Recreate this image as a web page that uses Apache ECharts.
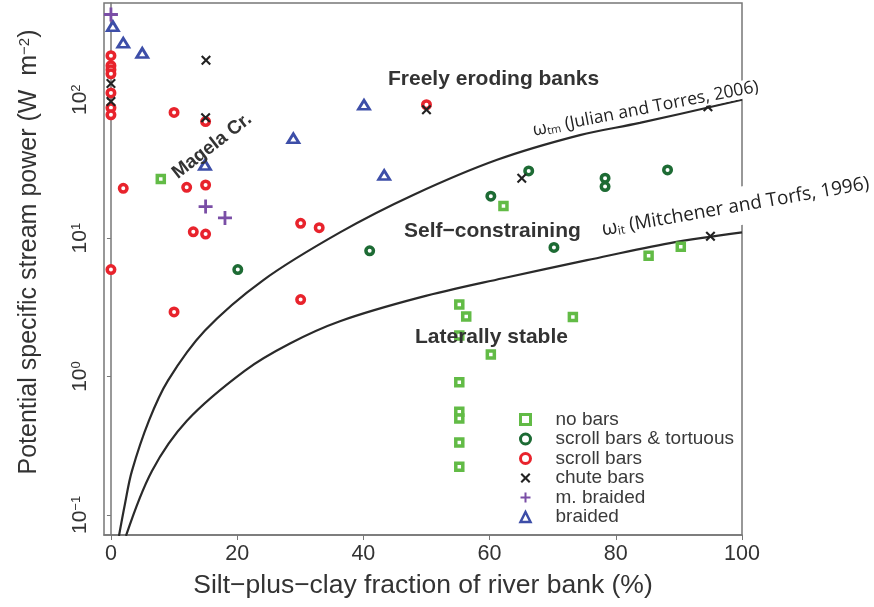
<!DOCTYPE html>
<html>
<head>
<meta charset="utf-8">
<script src="https://cdn.jsdelivr.net/npm/echarts@6/dist/echarts.min.js"></script>
<style>
  html, body { margin: 0; padding: 0; background: #fff; }
  #container { width: 874px; height: 607px; }
</style>
</head>
<body>
<div id="container"></div>
<script>
// tick labels
var xTicks = [0, 20, 40, 60, 80, 100];
var yTicks = [0.1, 1, 10, 100];

// channel pattern groups, [silt-clay %, stream power W/m2]
var noBars = [[7.9, 26.8], [62.2, 17.1], [85.2, 7.45], [90.3, 8.65], [55.2, 3.31], [56.3, 2.72],
  [73.2, 2.69], [55.2, 1.98], [60.2, 1.44], [55.2, 0.91], [55.2, 0.557], [55.2, 0.497],
  [55.2, 0.333], [55.2, 0.223]];
var scrollTortuous = [[20.1, 5.93], [41.0, 8.09], [60.2, 20.1], [66.2, 30.6], [70.2, 8.57],
  [78.3, 27.1], [78.3, 23.6], [88.2, 31.1]];
var scrollBars = [[0, 208], [0, 176], [0, 165], [0, 154], [0, 112], [0, 87.5], [0, 77.8], [0, 5.93],
  [1.95, 22.9], [10.0, 80.9], [15.0, 69.6], [12.0, 23.3], [15.0, 24.2], [13.05, 11.1], [15.0, 10.7],
  [30.06, 12.8], [33.0, 11.9], [10.0, 2.93], [30.06, 3.6], [50.0, 92]];
var chuteBars = [[0, 131], [0, 97], [15.06, 193], [15.0, 74], [50.0, 84.7], [65.1, 27.1], [94.6, 89], [95, 10.3]];
var mBraided = [[0, 413], [15.0, 16.9], [18.07, 14.0]];
var braided = [[0.3, 340], [1.95, 258], [4.96, 218], [28.9, 52.7], [14.9, 33.8], [40.1, 92], [43.3, 28.6]];

// threshold curves
var julianX = [1.27, 2.22, 3.33, 6.02, 9.03, 14.9, 24.1, 36.3, 47.9, 61.2, 74.3, 83.8, 100];
var julianY = [0.0705, 0.12, 0.208, 0.48, 0.935, 2.15, 4.96, 11.0, 20.5, 36.8, 55.5, 68, 100];
var mitchX = [2.38, 6.5, 12.04, 21.24, 28.37, 36.29, 48.97, 62.12, 75.44, 88.59, 100];
var mitchY = [0.0705, 0.208, 0.48, 1.105, 1.734, 2.51, 3.73, 5.13, 6.93, 9.21, 11.0];

var names = ['no bars', 'scroll bars & tortuous', 'scroll bars', 'chute bars', 'm. braided', 'braided'];

var FONT = '"Liberation Sans", Arial, sans-serif';
var plusPath = 'path://M4,0H6V4H10V6H6V10H4V6H0V4H4Z';
var crossPath = 'path://M0,1.5L1.5,0L5,3.5L8.5,0L10,1.5L6.5,5L10,8.5L8.5,10L5,6.5L1.5,10L0,8.5L3.5,5Z';

function zipXY(xs, ys) {
  return xs.map(function (x, i) { return [x, ys[i]]; });
}

var myChart = echarts.init(document.getElementById('container'));

var option = {
  animation: false,
  textStyle: { fontFamily: FONT },
  grid: {
    left: 104, right: 132, top: 3, bottom: 72,
    show: true, borderColor: '#777', borderWidth: 1.5
  },
  legend: {
    orient: 'vertical',
    left: 514, top: 405,
    itemWidth: 10, itemHeight: 10, itemGap: 0.5,
    textStyle: { fontSize: 19, color: '#3a3a3a', fontFamily: FONT, padding: [0, 0, 0, 20] },
    data: [
      { name: names[0], itemStyle: { borderWidth: 3 } },
      { name: names[1], itemStyle: { borderWidth: 3 } },
      { name: names[2], itemStyle: { borderWidth: 3 } },
      { name: names[3] },
      { name: names[4] },
      { name: names[5], itemStyle: { borderWidth: 2.5 } }
    ]
  },
  xAxis: {
    type: 'value',
    min: -1.1, max: 100,
    name: 'Silt\u2212plus\u2212clay fraction of river bank (%)',
    nameLocation: 'middle', nameGap: 37,
    nameTextStyle: { fontSize: 26.5, color: '#333' },
    axisLine: { lineStyle: { color: '#777', width: 1.5 } },
    axisTick: { show: true, length: 5, customValues: xTicks, lineStyle: { color: '#777' } },
    axisLabel: { fontSize: 21.5, color: '#333', margin: 8, customValues: xTicks },
    splitLine: { show: false }
  },
  yAxis: {
    type: 'log', logBase: 10,
    min: 0.0716, max: 500,
    name: 'Potential specific stream power (W  m{sup|\u22122})',
    nameLocation: 'middle', nameGap: 62,
    nameTextStyle: {
      fontSize: 25, color: '#333', padding: [0, 0, 0, 34],
      rich: { sup: { fontSize: 15, lineHeight: 14, verticalAlign: 'top', color: '#333' } }
    },
    axisLine: { show: true, lineStyle: { color: '#777', width: 1.5 } },
    axisTick: { show: true, length: 4, customValues: yTicks, lineStyle: { color: '#777' } },
    axisLabel: {
      rotate: 90, margin: 13, fontSize: 21, color: '#333',
      customValues: yTicks,
      formatter: function (v) {
        var e = Math.round(Math.log10(v));
        return '10{sup|' + (e < 0 ? '\u2212' + (-e) : e) + '}';
      },
      rich: { sup: { fontSize: 13, lineHeight: 12, verticalAlign: 'top', color: '#333' } }
    },
    splitLine: { show: false }
  },
  series: [
    {
      name: 'no bars', type: 'scatter', symbol: 'rect', symbolSize: 7,
      itemStyle: { color: '#fff', borderColor: '#62bb46', borderWidth: 3.5, opacity: 1 },
      data: noBars, z: 3
    },
    {
      name: 'scroll bars & tortuous', type: 'scatter', symbol: 'circle', symbolSize: 7.5,
      itemStyle: { color: '#fff', borderColor: '#1d6b34', borderWidth: 3.5, opacity: 1 },
      data: scrollTortuous, z: 3
    },
    {
      name: 'scroll bars', type: 'scatter', symbol: 'circle', symbolSize: 7.5,
      itemStyle: { color: '#fff', borderColor: '#e8232c', borderWidth: 3.5, opacity: 1 },
      data: scrollBars, z: 3
    },
    {
      name: 'chute bars', type: 'scatter', symbol: crossPath, symbolSize: 10,
      itemStyle: { color: '#222', opacity: 1 },
      data: chuteBars, z: 4
    },
    {
      name: 'm. braided', type: 'scatter', symbol: plusPath, symbolSize: 14,
      itemStyle: { color: '#7a4ea6', opacity: 1 },
      data: mBraided, z: 4
    },
    {
      name: 'braided', type: 'scatter', symbol: 'triangle', symbolSize: [11, 9],
      itemStyle: { color: '#fff', borderColor: '#3d4ea8', borderWidth: 2.8, opacity: 1 },
      data: braided, z: 3
    },
    {
      name: 'julian', type: 'line', smooth: 0.35, symbol: 'none', clip: true,
      lineStyle: { color: '#2a2a2a', width: 2.2 },
      data: zipXY(julianX, julianY), z: 2
    },
    {
      name: 'mitchener', type: 'line', smooth: 0.35, symbol: 'none', clip: true,
      lineStyle: { color: '#2a2a2a', width: 2.2 },
      data: zipXY(mitchX, mitchY), z: 2
    }
  ],
  graphic: [
    { type: 'text', x: 388, y: 79, z: 100,
      style: { text: 'Freely eroding banks', font: 'bold 21px ' + FONT, fill: '#333', textVerticalAlign: 'middle' } },
    { type: 'text', x: 404, y: 231, z: 100,
      style: { text: 'Self\u2212constraining', font: 'bold 21px ' + FONT, fill: '#333', textVerticalAlign: 'middle' } },
    { type: 'text', x: 415, y: 337, z: 100,
      style: { text: 'Laterally stable', font: 'bold 21px ' + FONT, fill: '#333', textVerticalAlign: 'middle' } },
    { type: 'text', x: 212, y: 146, rotation: 0.66, z: 100,
      style: { text: 'Magela Cr.', font: 'bold 19px ' + FONT, fill: '#333', textAlign: 'center', textVerticalAlign: 'middle' } },
    { type: 'text', x: 531, y: 131, rotation: 0.193, z: 100,
      style: {
        text: '{w|\u03c9}{s|tm} (Julian and Torres, 2006)',
        font: '17.5px "Open Sans", sans-serif', fill: '#222',
        textVerticalAlign: 'middle',
        backgroundColor: '#fff', padding: [0, 2],
        rich: {
          w: { fontSize: 18, fontFamily: '"Open Sans", sans-serif', fill: '#222' },
          s: { fontSize: 11, fontFamily: '"Open Sans", sans-serif', verticalAlign: 'bottom', lineHeight: 14, fill: '#222' }
        }
      } },
    { type: 'text', x: 596, y: 231, rotation: 0.172, z: 100,
      style: {
        text: '{w|\u03c9}{s|it} (Mitchener and Torfs, 1996)',
        font: '19px "Open Sans", sans-serif', fill: '#222',
        textVerticalAlign: 'middle',
        backgroundColor: '#fff', padding: [9, 6],
        rich: {
          w: { fontSize: 20, fontFamily: '"Open Sans", sans-serif', fill: '#222' },
          s: { fontSize: 12, fontFamily: '"Open Sans", sans-serif', verticalAlign: 'bottom', lineHeight: 14, fill: '#222' }
        }
      } }
  ]
};

if (option && typeof option === "object") {
  myChart.setOption(option, true);
}
</script>
</body>
</html>
